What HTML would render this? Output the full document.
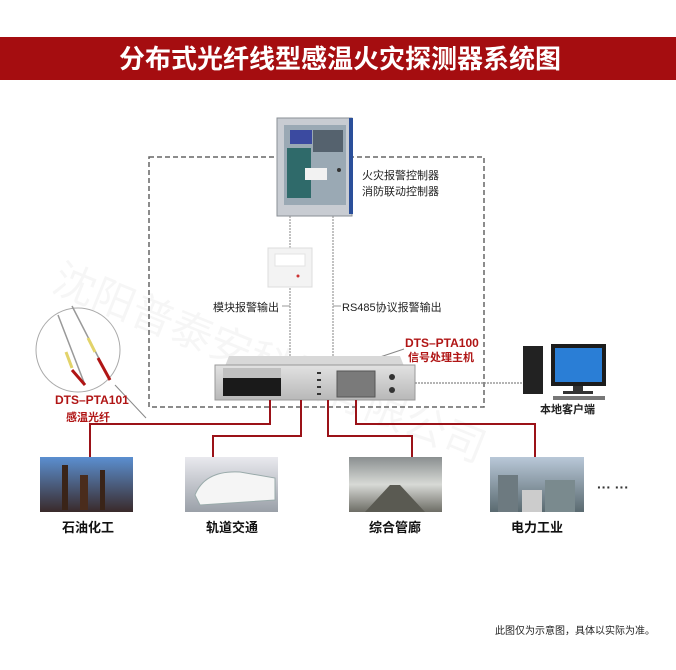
<!DOCTYPE html>
<html><head><meta charset="utf-8"><style>
body{margin:0;width:676px;height:670px;background:#fff;overflow:hidden;font-family:"Liberation Sans","Noto Sans CJK SC",sans-serif}
</style></head><body>
<svg width="676" height="670" viewBox="0 0 676 670" xmlns="http://www.w3.org/2000/svg" style="position:absolute;left:0;top:0">
<defs>
<linearGradient id="sky1" x1="0" y1="0" x2="0" y2="1"><stop offset="0" stop-color="#5b8fd0"/><stop offset="1" stop-color="#3a2a2a"/></linearGradient>
<linearGradient id="sky2" x1="0" y1="0" x2="0" y2="1"><stop offset="0" stop-color="#e9e9ee"/><stop offset="1" stop-color="#9aa0a8"/></linearGradient>
<linearGradient id="sky3" x1="0" y1="0" x2="0" y2="1"><stop offset="0" stop-color="#8a8f90"/><stop offset="0.5" stop-color="#d8dad6"/><stop offset="1" stop-color="#6d6d66"/></linearGradient>
<linearGradient id="sky4" x1="0" y1="0" x2="0" y2="1"><stop offset="0" stop-color="#b9c8d8"/><stop offset="1" stop-color="#5a6a70"/></linearGradient>
<linearGradient id="dev" x1="0" y1="0" x2="0" y2="1"><stop offset="0" stop-color="#e2e2e2"/><stop offset="1" stop-color="#b8b8b8"/></linearGradient>
</defs>
<rect x="0" y="37" width="676" height="43" fill="#a50d10"/>
<text x="340" y="68" font-size="26" fill="#fff" text-anchor="middle" font-weight="bold" font-family="Liberation Sans,Noto Sans CJK SC,sans-serif">分布式光纤线型感温火灾探测器系统图</text>
<text x="50" y="290" font-size="42" fill="#000" opacity="0.03" transform="rotate(22 50 290)" font-family="Noto Sans CJK SC,sans-serif">沈阳普泰安科技有限公司</text>
<rect x="149" y="157" width="335" height="250" fill="none" stroke="#666" stroke-width="1.5" stroke-dasharray="5,3"/>
<line x1="290" y1="216" x2="290" y2="356" stroke="#999" stroke-width="1.2" stroke-dasharray="2,1"/>
<line x1="333" y1="216" x2="333" y2="356" stroke="#999" stroke-width="1.2" stroke-dasharray="2,1"/>
<line x1="282" y1="306" x2="290" y2="306" stroke="#999"/>
<line x1="333" y1="306" x2="341" y2="306" stroke="#999"/>
<rect x="277" y="118" width="75" height="98" fill="#c8ccd2" stroke="#8a8f96"/>
<rect x="349" y="118" width="4" height="96" fill="#2a4f9a"/>
<rect x="284" y="125" width="62" height="80" fill="#9aa9b4"/>
<rect x="290" y="130" width="22" height="14" fill="#3b4aa0"/>
<rect x="313" y="130" width="30" height="22" fill="#55626e"/>
<rect x="287" y="148" width="24" height="50" fill="#2f6a6a"/>
<rect x="305" y="168" width="22" height="12" fill="#f2f2f2"/>
<circle cx="339" cy="170" r="2" fill="#333"/>
<text x="362" y="179" font-size="11" fill="#222">火灾报警控制器</text>
<text x="362" y="195" font-size="11" fill="#222">消防联动控制器</text>
<rect x="268" y="248" width="44" height="39" fill="#f3f3f3" stroke="#ddd"/>
<rect x="275" y="254" width="30" height="12" fill="#fff" stroke="#e3e3e3"/>
<circle cx="298" cy="276" r="1.5" fill="#c33"/>
<text x="213" y="311" font-size="11" fill="#222">模块报警输出</text>
<text x="342" y="311" font-size="11" fill="#222">RS485协议报警输出</text>
<text x="405" y="347" font-size="12" fill="#b01515" font-weight="bold">DTS–PTA100</text>
<text x="408" y="361" font-size="11" fill="#b01515" font-weight="bold">信号处理主机</text>
<line x1="380" y1="357" x2="404" y2="349" stroke="#888"/>
<polygon points="225,366 404,366 400,356 229,356" fill="#d8d8d8"/>
<rect x="215" y="365" width="200" height="35" fill="url(#dev)" stroke="#999"/>
<rect x="223" y="368" width="58" height="28" fill="#1a1a1a"/>
<rect x="223" y="368" width="58" height="10" fill="#c0c0c0"/>
<rect x="337" y="371" width="38" height="26" fill="#7a7a7a" stroke="#555"/>
<circle cx="392" cy="377" r="3" fill="#333"/>
<circle cx="392" cy="390" r="3" fill="#333"/>
<rect x="317" y="372" width="4" height="2" fill="#333"/><rect x="317" y="379" width="4" height="2" fill="#333"/><rect x="317" y="386" width="4" height="2" fill="#333"/><rect x="317" y="393" width="4" height="2" fill="#333"/>
<line x1="415" y1="383" x2="525" y2="383" stroke="#888" stroke-width="1.2" stroke-dasharray="2,1"/>
<rect x="523" y="346" width="20" height="48" fill="#222"/>
<rect x="551" y="344" width="55" height="42" fill="#1c1c1c"/>
<rect x="555" y="348" width="47" height="34" fill="#2a7ed6"/>
<rect x="573" y="386" width="10" height="5" fill="#333"/>
<rect x="563" y="391" width="30" height="3" fill="#333"/>
<rect x="553" y="396" width="52" height="4" fill="#777"/>
<text x="540" y="413" font-size="11" fill="#222" font-weight="bold">本地客户端</text>
<circle cx="78" cy="350" r="42" fill="#fff" stroke="#aaa"/>
<line x1="58" y1="315" x2="85" y2="385" stroke="#999" stroke-width="1.5"/>
<line x1="72" y1="370" x2="85" y2="385" stroke="#b01515" stroke-width="3"/>
<line x1="66" y1="352" x2="72" y2="368" stroke="#e2d36a" stroke-width="3"/>
<line x1="72" y1="306" x2="110" y2="380" stroke="#999" stroke-width="1.5"/>
<line x1="98" y1="358" x2="110" y2="380" stroke="#b01515" stroke-width="3"/>
<line x1="88" y1="338" x2="95" y2="352" stroke="#e2d36a" stroke-width="3"/>
<line x1="115" y1="385" x2="146" y2="418" stroke="#888"/>
<text x="55" y="404" font-size="12" fill="#b01515" font-weight="bold">DTS–PTA101</text>
<text x="66" y="421" font-size="11" fill="#b01515" font-weight="bold">感温光纤</text>
<g fill="none" stroke="#9b1218" stroke-width="2">
<polyline points="270,400 270,424 90,424 90,457"/>
<polyline points="301,400 301,436 213,436 213,457"/>
<polyline points="328,400 328,436 412,436 412,457"/>
<polyline points="356,400 356,424 535,424 535,457"/>
</g>
<rect x="40" y="457" width="93" height="55" fill="url(#sky1)"/>
<rect x="62" y="465" width="6" height="45" fill="#3a2418"/><rect x="80" y="475" width="8" height="35" fill="#4a2c1c"/><rect x="100" y="470" width="5" height="40" fill="#3a2418"/>
<rect x="185" y="457" width="93" height="55" fill="url(#sky2)"/>
<path d="M195 495 Q205 470 240 472 L275 478 L275 500 L200 505 Z" fill="#f5f5f5" stroke="#9aa"/>
<rect x="349" y="457" width="93" height="55" fill="url(#sky3)"/>
<polygon points="390,485 400,485 425,512 365,512" fill="#5a5a52"/>
<rect x="490" y="457" width="94" height="55" fill="url(#sky4)"/>
<rect x="498" y="475" width="20" height="37" fill="#6d7a80"/><rect x="545" y="480" width="30" height="32" fill="#7a8a8e"/><rect x="522" y="490" width="20" height="22" fill="#ccc"/>
<text x="597" y="492" font-size="14" fill="#333" font-weight="bold">··· ···</text>
<g font-size="13" fill="#111" font-weight="bold" text-anchor="middle">
<text x="88" y="532">石油化工</text>
<text x="232" y="532">轨道交通</text>
<text x="395" y="532">综合管廊</text>
<text x="537" y="532">电力工业</text>
</g>
<text x="655" y="634" font-size="10" fill="#222" text-anchor="end">此图仅为示意图，具体以实际为准。</text>
</svg>
</body></html>
